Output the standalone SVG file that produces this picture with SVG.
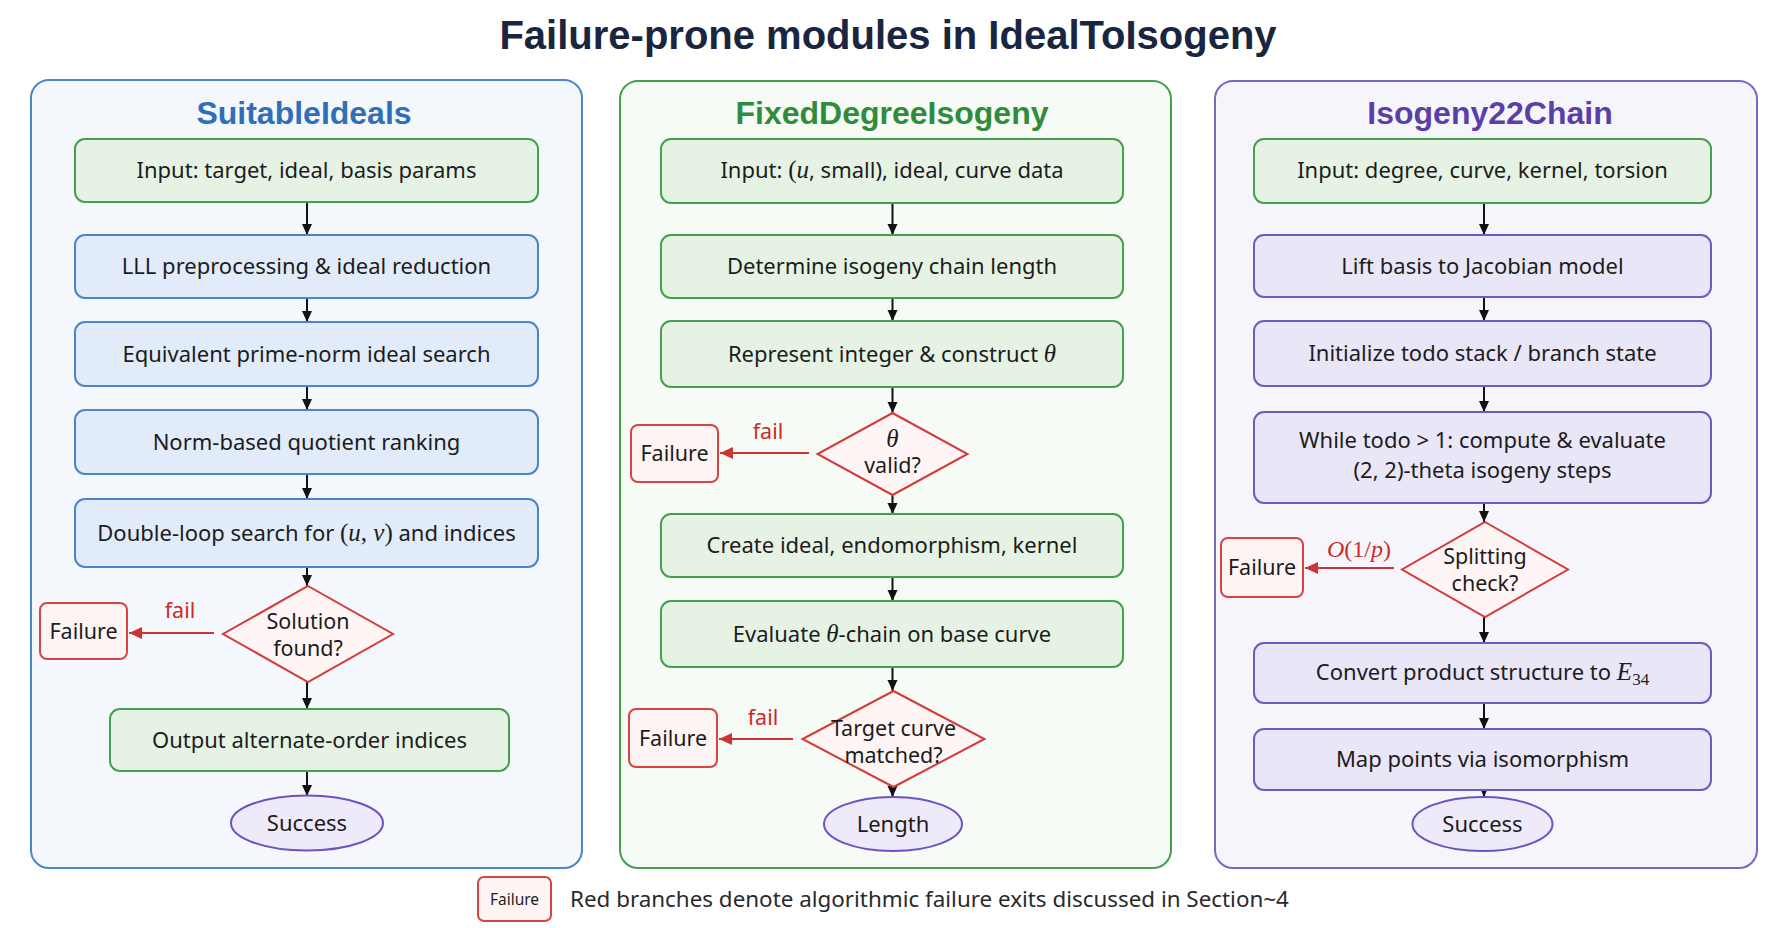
<svg xmlns="http://www.w3.org/2000/svg" width="1773" height="928" viewBox="0 0 1773 928">
<defs>
<style>
.t{font-family:"Noto Sans","Open Sans","Liberation Sans",sans-serif;font-size:22px;fill:#1c1c1c;text-anchor:middle}
.s{font-size:21.5px}
.m{font-family:"Liberation Serif","DejaVu Serif",serif;font-style:italic;font-size:25px}
.mu{font-family:"Liberation Serif","DejaVu Serif",serif;font-style:normal;font-size:25px}
.ttl{font-family:"Liberation Sans",Arial,sans-serif;font-weight:bold;font-size:32px;text-anchor:middle}
.blue{fill:#e1ebf9;stroke:#4a84cb;stroke-width:2}
.green{fill:#e6f3e4;stroke:#44a04f;stroke-width:2}
.purple{fill:#e9e6f7;stroke:#6d5bbf;stroke-width:2}
.dia{fill:#fff5f5;stroke:#d43a3a;stroke-width:2}
.fbox{fill:#fff4f4;stroke:#d64545;stroke-width:2}
.ell{fill:#efeafa;stroke:#6c52c2;stroke-width:2}
.flow{stroke:#111;stroke-width:2;fill:none;marker-end:url(#ah)}
.fail{stroke:#cc3333;stroke-width:2;fill:none;marker-end:url(#ahr)}
.red{fill:#cc2a2a}
</style>
<marker id="ah" markerWidth="12" markerHeight="12" refX="11" refY="6" orient="auto" markerUnits="userSpaceOnUse"><path d="M0,1 L11,6 L0,11 Z" fill="#111"/></marker>
<marker id="ahr" markerWidth="14" markerHeight="14" refX="13" refY="7" orient="auto" markerUnits="userSpaceOnUse"><path d="M0,1 L13,7 L0,13 Z" fill="#cc3333"/></marker>
</defs>
<rect width="1773" height="928" fill="#ffffff"/>
<text x="888" y="49" font-family="Liberation Sans, Arial, sans-serif" font-weight="bold" font-size="40" fill="#1a2640" text-anchor="middle">Failure-prone modules in IdealToIsogeny</text>

<g id="panel-suitable">
<rect x="31" y="80" width="551" height="788" rx="18" fill="#f4f8fd" stroke="#4a86cc" stroke-width="2"/>
<text class="ttl" x="304" y="124" fill="#2f6fb9">SuitableIdeals</text>
</g>
<g id="panel-fixed">
<rect x="620" y="81" width="551" height="787" rx="18" fill="#f6fbf5" stroke="#43a04e" stroke-width="2"/>
<text class="ttl" x="892" y="124" fill="#2f8c3c">FixedDegreeIsogeny</text>
</g>
<g id="panel-chain">
<rect x="1215" y="81" width="542" height="787" rx="18" fill="#f7f5fc" stroke="#7a66c4" stroke-width="2"/>
<text class="ttl" x="1490" y="124" fill="#5b3fa6">Isogeny22Chain</text>
</g>

<g id="connectors">
<line class="flow" x1="307" y1="202" x2="307" y2="235"/>
<line class="flow" x1="307" y1="298" x2="307" y2="322"/>
<line class="flow" x1="307" y1="386" x2="307" y2="410"/>
<line class="flow" x1="307" y1="474" x2="307" y2="499"/>
<line class="flow" x1="307" y1="567" x2="307" y2="586"/>
<line class="flow" x1="307" y1="682" x2="307" y2="709"/>
<line class="flow" x1="307" y1="771" x2="307" y2="796"/>
<line class="fail" x1="214" y1="633" x2="129" y2="633"/>
<text class="t s red" x="180" y="618">fail</text>

<line class="flow" x1="892.5" y1="203" x2="892.5" y2="235"/>
<line class="flow" x1="892.5" y1="298" x2="892.5" y2="321"/>
<line class="flow" x1="892.5" y1="387" x2="892.5" y2="413"/>
<line class="flow" x1="892.5" y1="495" x2="892.5" y2="514"/>
<line class="flow" x1="892.5" y1="577" x2="892.5" y2="601"/>
<line class="flow" x1="892.5" y1="667" x2="892.5" y2="691"/>
<line class="flow" x1="892.5" y1="782" x2="892.5" y2="797"/>
<line class="fail" x1="809" y1="453" x2="720" y2="453"/>
<text class="t s red" x="768" y="439">fail</text>
<line class="fail" x1="793" y1="739" x2="719" y2="739"/>
<text class="t s red" x="763" y="725">fail</text>

<line class="flow" x1="1484" y1="203" x2="1484" y2="235"/>
<line class="flow" x1="1484" y1="297" x2="1484" y2="321"/>
<line class="flow" x1="1484" y1="386" x2="1484" y2="412"/>
<line class="flow" x1="1484" y1="503" x2="1484" y2="522"/>
<line class="flow" x1="1484" y1="617" x2="1484" y2="643"/>
<line class="flow" x1="1484" y1="703" x2="1484" y2="729"/>
<line class="flow" x1="1484" y1="786" x2="1484" y2="797"/>
<line class="fail" x1="1394" y1="568" x2="1305" y2="568"/>
<text class="red" x="1359" y="557" font-family="Liberation Serif, DejaVu Serif, serif" font-style="italic" font-size="24" text-anchor="middle">O<tspan font-style="normal">(1/</tspan>p<tspan font-style="normal">)</tspan></text>
</g>

<!-- Panel 1 nodes -->
<g id="s-input"><rect class="green" x="75" y="139" width="463" height="63" rx="10"/><text class="t" x="306.5" y="178">Input: target, ideal, basis params</text></g>
<g id="s-lll"><rect class="blue" x="75" y="235" width="463" height="63" rx="10"/><text class="t" x="306.5" y="274">LLL preprocessing &amp; ideal reduction</text></g>
<g id="s-equiv"><rect class="blue" x="75" y="322" width="463" height="64" rx="10"/><text class="t" x="306.5" y="362">Equivalent prime-norm ideal search</text></g>
<g id="s-norm"><rect class="blue" x="75" y="410" width="463" height="64" rx="10"/><text class="t" x="306.5" y="450">Norm-based quotient ranking</text></g>
<g id="s-double"><rect class="blue" x="75" y="499" width="463" height="68" rx="10"/><text class="t" x="306.5" y="541">Double-loop search for <tspan class="mu">(</tspan><tspan class="m">u</tspan><tspan class="mu">, </tspan><tspan class="m">v</tspan><tspan class="mu">)</tspan> and indices</text></g>
<g id="s-solution"><polygon class="dia" points="308,586 393,634 308,682 223,634"/><text class="t s" x="308" y="629">Solution</text><text class="t s" x="308" y="656">found?</text></g>
<g id="s-failure"><rect class="fbox" x="40" y="603" width="87" height="56" rx="7"/><text class="t s" x="83.5" y="639">Failure</text></g>
<g id="s-output"><rect class="green" x="110" y="709" width="399" height="62" rx="10"/><text class="t" x="309.5" y="748">Output alternate-order indices</text></g>
<g id="s-success"><ellipse class="ell" cx="307" cy="823" rx="76" ry="27.5"/><text class="t" x="307" y="831">Success</text></g>

<!-- Panel 2 nodes -->
<g id="f-input"><rect class="green" x="661" y="139" width="462" height="64" rx="10"/><text class="t" x="892" y="178">Input: <tspan class="mu">(</tspan><tspan class="m">u</tspan>, small), ideal, curve data</text></g>
<g id="f-determine"><rect class="green" x="661" y="235" width="462" height="63" rx="10"/><text class="t" x="892" y="274">Determine isogeny chain length</text></g>
<g id="f-represent"><rect class="green" x="661" y="321" width="462" height="66" rx="10"/><text class="t" x="892" y="362">Represent integer &amp; construct <tspan class="m">θ</tspan></text></g>
<g id="f-theta"><polygon class="dia" points="892.5,413 967.5,454 892.5,495 817.5,454"/><text class="t m" x="892.5" y="447">θ</text><text class="t s" x="892.5" y="473">valid?</text></g>
<g id="f-failure1"><rect class="fbox" x="631" y="425" width="87" height="57" rx="7"/><text class="t s" x="674.5" y="461">Failure</text></g>
<g id="f-create"><rect class="green" x="661" y="514" width="462" height="63" rx="10"/><text class="t" x="892" y="553">Create ideal, endomorphism, kernel</text></g>
<g id="f-evaluate"><rect class="green" x="661" y="601" width="462" height="66" rx="10"/><text class="t" x="892" y="642">Evaluate <tspan class="m">θ</tspan>-chain on base curve</text></g>
<g id="f-target"><polygon class="dia" points="893.5,691 984.5,739 893.5,787 802.5,739"/><text class="t s" x="893.5" y="736">Target curve</text><text class="t s" x="893.5" y="763">matched?</text></g>
<g id="f-failure2"><rect class="fbox" x="629" y="709" width="88" height="58" rx="7"/><text class="t s" x="673" y="746">Failure</text></g>
<g id="f-length"><ellipse class="ell" cx="893" cy="824" rx="69" ry="27"/><text class="t" x="893" y="832">Length</text></g>

<!-- Panel 3 nodes -->
<g id="c-input"><rect class="green" x="1254" y="139" width="457" height="64" rx="10"/><text class="t" x="1482.5" y="178">Input: degree, curve, kernel, torsion</text></g>
<g id="c-lift"><rect class="purple" x="1254" y="235" width="457" height="62" rx="10"/><text class="t" x="1482.5" y="274">Lift basis to Jacobian model</text></g>
<g id="c-init"><rect class="purple" x="1254" y="321" width="457" height="65" rx="10"/><text class="t" x="1482.5" y="361">Initialize todo stack / branch state</text></g>
<g id="c-while"><rect class="purple" x="1254" y="412" width="457" height="91" rx="10"/><text class="t" x="1482.5" y="448">While todo &gt; 1: compute &amp; evaluate</text><text class="t" x="1482.5" y="478">(2, 2)-theta isogeny steps</text></g>
<g id="c-split"><polygon class="dia" points="1485,522 1568,569.5 1485,617 1402,569.5"/><text class="t s" x="1485" y="564">Splitting</text><text class="t s" x="1485" y="591">check?</text></g>
<g id="c-failure"><rect class="fbox" x="1221" y="538" width="82" height="59" rx="7"/><text class="t s" x="1262" y="575">Failure</text></g>
<g id="c-convert"><rect class="purple" x="1254" y="643" width="457" height="60" rx="10"/><text class="t" x="1482.5" y="680">Convert product structure to <tspan class="m">E</tspan><tspan class="mu" style="font-size:17px" dy="5">34</tspan></text></g>
<g id="c-map"><rect class="purple" x="1254" y="729" width="457" height="61" rx="10"/><text class="t" x="1482.5" y="767">Map points via isomorphism</text></g>
<g id="c-success"><ellipse class="ell" cx="1482.5" cy="824" rx="70" ry="27"/><text class="t" x="1482.5" y="832">Success</text></g>

<g id="legend">
<rect class="fbox" x="478" y="877" width="73" height="44" rx="6"/>
<text class="t" x="514.5" y="905" style="font-size:15.5px">Failure</text>
<text x="570" y="907" font-family="Noto Sans, Open Sans, Liberation Sans, sans-serif" font-size="22.4" fill="#2a2a2a">Red branches denote algorithmic failure exits discussed in Section~4</text>
</g>
</svg>
